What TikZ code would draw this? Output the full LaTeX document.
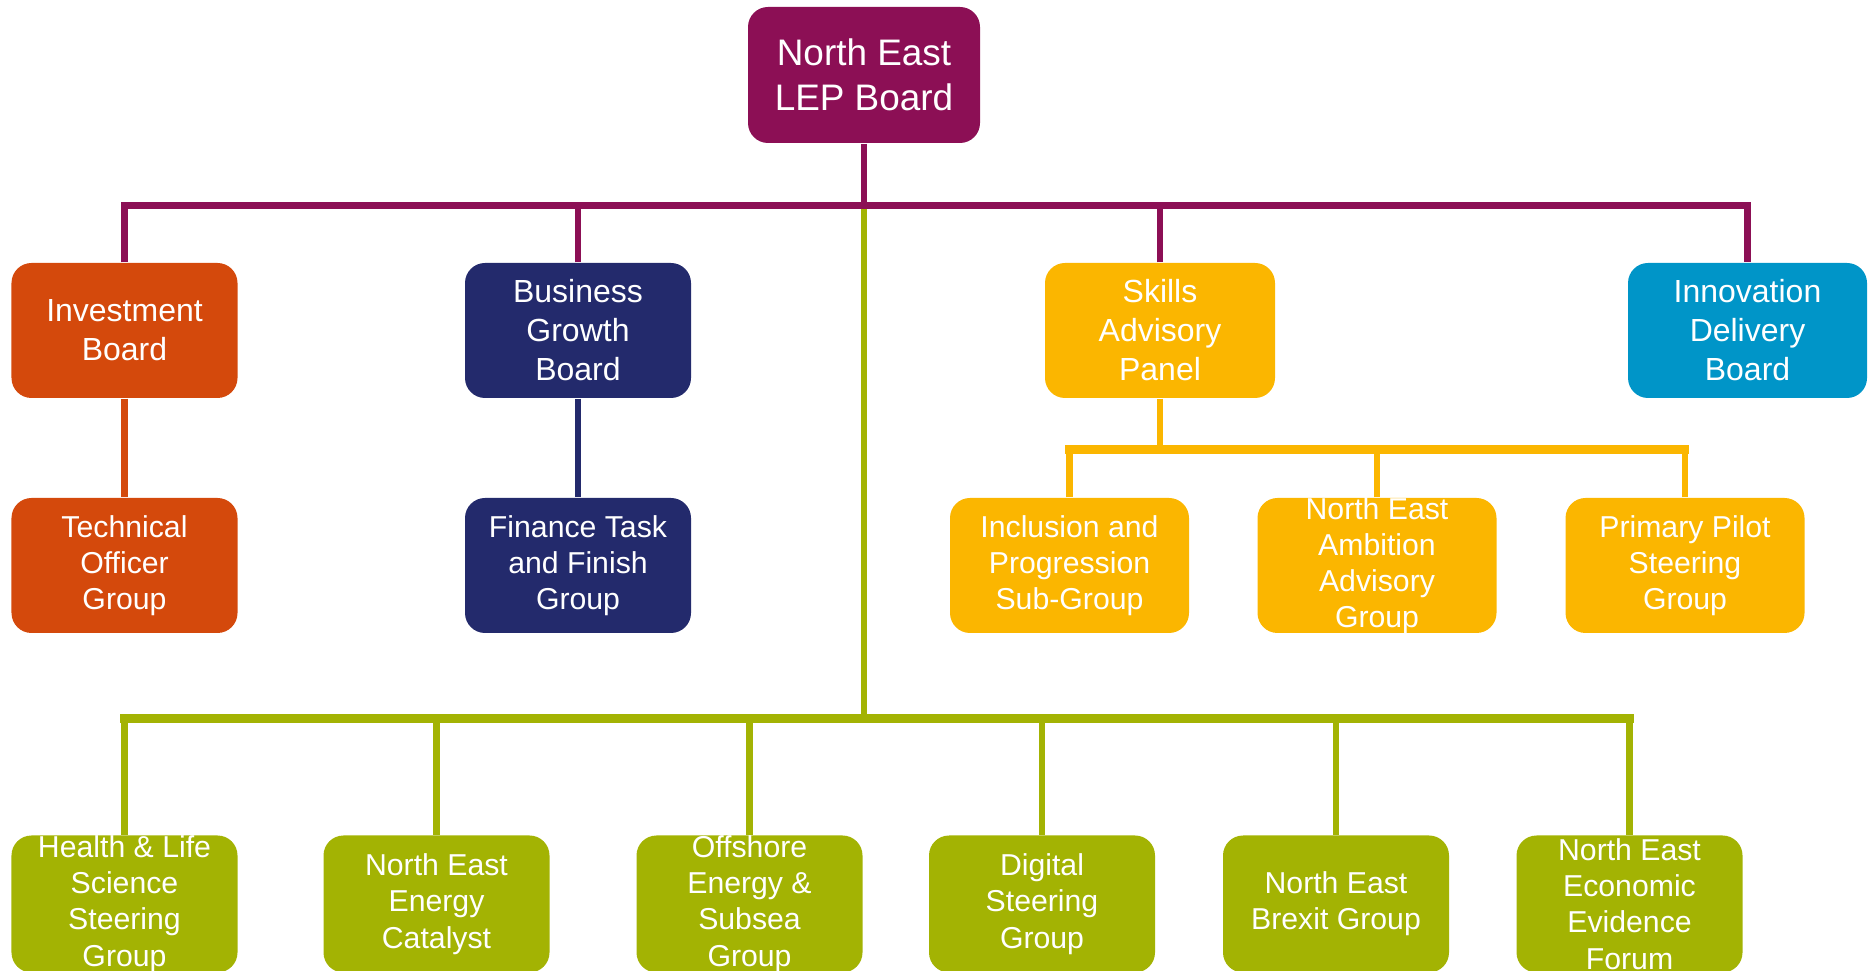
\documentclass[tikz,border=0pt]{standalone}
\usepackage{fontspec}
\setmainfont{Liberation Sans}
\definecolor{lepred}{HTML}{8C0F55}
\definecolor{invorange}{HTML}{D4490C}
\definecolor{bgbnavy}{HTML}{232A6C}
\definecolor{skillamber}{HTML}{FBB600}
\definecolor{innoblue}{HTML}{0095C8}
\definecolor{sectgreen}{HTML}{A3B303}
\tikzset{
  board/.style={rectangle,rounded corners=2mm,minimum width=2.26cm,minimum height=1.35cm,inner sep=0pt},
  wide/.style={minimum width=2.39cm},
  caption/.style={text=white,align=center,font=\fontsize{8.6}{10.3}\selectfont},
  bigcaption/.style={caption,font=\fontsize{9.1}{11.1}\selectfont},
  link/.style={line width=1.9pt},
  bus/.style={line width=2.4pt,line cap=rect}
}

\begin{document}
\begin{tikzpicture}
  \useasboundingbox (0,0) rectangle (18.68,-9.71);

  % main board
  \node[board,fill=lepred,minimum width=2.32cm,minimum height=1.36cm,
        label={[caption,font=\fontsize{10.5}{12.8}\selectfont]center:North East\\LEP Board}] (lep) at (8.64,-0.75) {};

  % boards reporting to it
  \node[board,fill=invorange,label={[bigcaption]center:Investment\\Board}] (inv) at (1.245,-3.305) {};
  \node[board,fill=bgbnavy,label={[bigcaption]center:Business\\Growth\\Board}] (bgb) at (5.78,-3.305) {};
  \node[board,fill=skillamber,minimum width=2.30cm,label={[bigcaption]center:Skills\\Advisory\\Panel}] (sap) at (11.60,-3.305) {};
  \node[board,fill=innoblue,wide,label={[bigcaption]center:Innovation\\Delivery\\Board}] (idb) at (17.475,-3.305) {};

  % sub-groups
  \node[board,fill=invorange,label={[caption]center:Technical\\Officer\\Group}] (tog) at (1.245,-5.655) {};
  \node[board,fill=bgbnavy,label={[caption]center:Finance Task\\and Finish\\Group}] (ftf) at (5.78,-5.655) {};
  \node[board,fill=skillamber,wide,label={[caption]center:Inclusion and\\Progression\\Sub-Group}] (inc) at (10.695,-5.655) {};
  \node[board,fill=skillamber,wide,label={[caption]center:North East\\Ambition\\Advisory\\Group}] (nea) at (13.77,-5.655) {};
  \node[board,fill=skillamber,wide,label={[caption]center:Primary Pilot\\Steering\\Group}] (pps) at (16.85,-5.655) {};

  % sector groups
  \node[board,fill=sectgreen,minimum height=1.37cm,label={[caption]center:Health \& Life\\Science\\Steering\\Group}] (hls) at (1.245,-9.04) {};
  \node[board,fill=sectgreen,minimum height=1.37cm,label={[caption]center:North East\\Energy\\Catalyst}] (nee) at (4.365,-9.04) {};
  \node[board,fill=sectgreen,minimum height=1.37cm,label={[caption]center:Offshore\\Energy \&\\Subsea\\Group}] (oes) at (7.495,-9.04) {};
  \node[board,fill=sectgreen,minimum height=1.37cm,label={[caption]center:Digital\\Steering\\Group}] (dsg) at (10.42,-9.04) {};
  \node[board,fill=sectgreen,minimum height=1.37cm,label={[caption]center:North East\\Brexit Group}] (neb) at (13.36,-9.04) {};
  \node[board,fill=sectgreen,minimum height=1.37cm,label={[caption]center:North East\\Economic\\Evidence\\Forum}] (eef) at (16.295,-9.04) {};

  \path (lep.south) ++(0,-0.62) coordinate (hub);
  \path (hub) ++(0,-5.13) coordinate (greenhub);
  \path (sap.south) ++(0,-0.51) coordinate (skillhub);

  % sector groups tree
  \draw[link,sectgreen] (hub) -- (greenhub);
  \draw[bus,sectgreen] (hls.north |- greenhub) -- (eef.north |- greenhub);
  \draw[link,sectgreen] (hls.north) -- (hls.north |- greenhub);
  \draw[link,sectgreen] (nee.north) -- (nee.north |- greenhub);
  \draw[link,sectgreen] (oes.north) -- (oes.north |- greenhub);
  \draw[link,sectgreen] (dsg.north) -- (dsg.north |- greenhub);
  \draw[link,sectgreen] (neb.north) -- (neb.north |- greenhub);
  \draw[link,sectgreen] (eef.north) -- (eef.north |- greenhub);

  % boards tree
  \draw[link,lepred] (lep.south) -- (hub);
  \draw[link,lepred] (inv.north) |- (hub) -| (idb.north);
  \draw[link,lepred] (bgb.north) -- (bgb.north |- hub);
  \draw[link,lepred] (sap.north) -- (sap.north |- hub);

  \draw[link,invorange] (inv.south) -- (tog.north);
  \draw[link,bgbnavy] (bgb.south) -- (ftf.north);

  % skills sub-groups
  \draw[link,skillamber] (sap.south) -- (skillhub);
  \draw[bus,skillamber] (inc.north |- skillhub) -- (pps.north |- skillhub);
  \draw[link,skillamber] (inc.north) -- (inc.north |- skillhub);
  \draw[link,skillamber] (nea.north) -- (nea.north |- skillhub);
  \draw[link,skillamber] (pps.north) -- (pps.north |- skillhub);
\end{tikzpicture}
\end{document}
